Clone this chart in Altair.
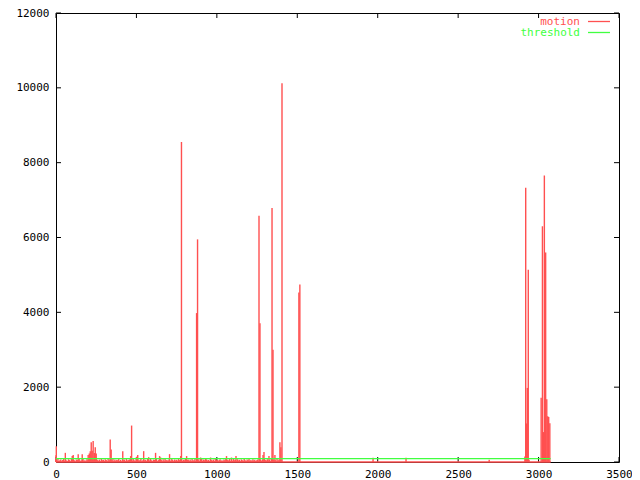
import altair as alt
import pandas as pd

RED = "#ff5050"
GREEN = "#40ff40"
FONT = "DejaVu Sans Mono"

series_names = ["motion", "threshold"]
x_ticks = [0, 500, 1000, 1500, 2000, 2500, 3000, 3500]
y_ticks = [0, 2000, 4000, 6000, 8000, 10000, 12000]

# small background motion values, one every 6 frames from frame 0 to 1398
noise_step = 6
noise_values = [
    60, 35, 80, 20, 45, 70, 15, 55, 90, 30, 65, 40, 25,
    75, 50, 20, 85, 35, 60, 45, 10, 70, 55, 30, 80, 40,
    25, 65, 90, 35, 50, 20, 75, 45, 60, 15, 85, 30, 55,
    40, 70, 25, 95, 50, 35, 65, 20, 80, 45, 60, 30, 75,
    55, 20, 85, 40, 65, 30, 50, 90, 25, 70, 35, 60, 45,
    80, 30, 55, 15, 75, 45, 65, 25, 85, 40, 50, 70, 20,
    60, 35, 90, 50, 25, 75, 40, 65, 30, 55, 85, 20, 45,
    70, 40, 60, 25, 80, 50, 35, 95, 45, 20, 65, 55, 30,
    85, 25, 50, 70, 40, 60, 15, 75, 35, 90, 45, 55, 25,
    65, 45, 30, 80, 55, 20, 70, 40, 60, 35, 85, 50, 25,
    75, 30, 60, 45, 90, 25, 55, 70, 35, 65, 20, 80, 40,
    50, 85, 30, 60, 40, 75, 25, 55, 95, 35, 65, 45, 20,
    70, 40, 55, 25, 80, 50, 35, 65, 30, 85, 45, 60, 20,
    55, 75, 35, 50, 20, 70, 45, 90, 30, 60, 40, 80, 25,
    65, 30, 85, 45, 55, 25, 75, 40, 60, 20, 70, 50, 35,
    80, 45, 25, 65, 50, 90, 35, 55, 20, 75, 40, 60, 30,
    45, 70, 20, 85, 55, 35, 65, 25, 80, 50, 40, 75, 30,
    60, 25, 90, 45, 70, 35, 55, 20, 85, 40, 65, 30, 50,
]

spike_frames = [
    0, 2, 58, 101, 107, 138, 163, 200, 207, 213, 219, 225, 231, 238, 244, 250,
    337, 343, 415, 464, 470, 501, 508, 545, 576, 619, 644, 650, 706, 775, 780,
    812, 874, 880, 899, 930, 961, 1060, 1091, 1119, 1262, 1268, 1287, 1293,
    1324, 1343, 1349, 1361, 1392, 1398, 1405, 1510, 1516, 1971, 2176, 2693,
    2915, 2920, 2925, 2930, 2936, 2941, 3016, 3024, 3030, 3036, 3044, 3051,
    3057, 3063, 3070,
]
spike_values = [
    180, 420, 245, 160, 185, 210, 210, 185, 230, 290, 526, 300, 560, 240, 395, 230,
    600, 335, 290, 158, 974, 140, 184, 290, 130, 245, 158, 123, 210, 158, 8550,
    158, 3980, 5950, 120, 100, 120, 158, 120, 158, 6580, 3710, 184, 265,
    158, 6790, 3000, 184, 526, 395, 10120, 4530, 4745, 115, 115, 60,
    150, 7330, 1030, 1980, 5140, 60, 1720, 6300, 800, 7660, 5600, 1675,
    1220, 1200, 1035,
]

motion_first_frame = 0
motion_last_frame = 3075
threshold_value = 90

frames = [i * noise_step for i in range(len(noise_values))] + spike_frames
values = noise_values + spike_values
motion_df = pd.DataFrame({"frame": frames, "motion": values, "base": 0})
span_df = pd.DataFrame({"start": [motion_first_frame], "end": [motion_last_frame],
                        "zero": [0], "threshold": [threshold_value]})
xt_df = pd.DataFrame({"t": x_ticks})
yt_df = pd.DataFrame({"t": y_ticks})

W, H = 563, 449

xscale = alt.Scale(domain=[0, 3500], nice=False, zero=False)
yscale = alt.Scale(domain=[0, 12000], nice=False, zero=False)

x_axis = alt.Axis(values=x_ticks, title=None, ticks=False, tickSize=0, domain=False,
                  grid=False, labelFont=FONT, labelFontSize=11, labelColor="black",
                  labelPadding=6, labelFlush=False, format="d")
y_axis = alt.Axis(values=y_ticks, title=None, ticks=False, tickSize=0, domain=False,
                  grid=False, labelFont=FONT, labelFontSize=11, labelColor="black",
                  labelPadding=7, labelFlush=False, format="d")

axes_layer = alt.Chart(xt_df).mark_point(opacity=0).encode(
    x=alt.X("t:Q", scale=xscale, axis=x_axis),
    y=alt.Y("zero:Q", scale=yscale, axis=y_axis),
).transform_calculate(zero="0")

motion = alt.Chart(motion_df).mark_rule(color=RED, strokeWidth=1.4).encode(
    x=alt.X("frame:Q", scale=xscale),
    y=alt.Y("motion:Q", scale=yscale),
    y2="base:Q",
)

baseline = alt.Chart(span_df).mark_rule(color=RED, strokeWidth=1.4).encode(
    x=alt.X("start:Q", scale=xscale), x2="end:Q",
    y=alt.Y("zero:Q", scale=yscale),
)

threshold = alt.Chart(span_df).mark_rule(color=GREEN, strokeWidth=1.3).encode(
    x=alt.X("start:Q", scale=xscale), x2="end:Q",
    y=alt.Y("threshold:Q", scale=yscale),
)

TL = 5
xt_bottom = alt.Chart(xt_df).mark_rule(color="black").encode(
    x=alt.X("t:Q", scale=xscale), y=alt.value(H), y2=alt.value(H - TL))
xt_top = alt.Chart(xt_df).mark_rule(color="black").encode(
    x=alt.X("t:Q", scale=xscale), y=alt.value(0), y2=alt.value(TL))
yt_left = alt.Chart(yt_df).mark_rule(color="black").encode(
    y=alt.Y("t:Q", scale=yscale), x=alt.value(0), x2=alt.value(TL))
yt_right = alt.Chart(yt_df).mark_rule(color="black").encode(
    y=alt.Y("t:Q", scale=yscale), x=alt.value(W), x2=alt.value(W - TL))

leg1_df = pd.DataFrame({"label": [series_names[0]]})
leg2_df = pd.DataFrame({"label": [series_names[1]]})
leg1_text = alt.Chart(leg1_df).mark_text(align="right", baseline="middle", font=FONT,
                                         fontSize=11, color=RED).encode(
    text="label:N", x=alt.value(524), y=alt.value(8.7))
leg2_text = alt.Chart(leg2_df).mark_text(align="right", baseline="middle", font=FONT,
                                         fontSize=11, color=GREEN).encode(
    text="label:N", x=alt.value(524), y=alt.value(19.7))
leg1_line = alt.Chart(leg1_df).mark_rule(color=RED, strokeWidth=1.3).encode(
    x=alt.value(532), x2=alt.value(554), y=alt.value(8.5))
leg2_line = alt.Chart(leg2_df).mark_rule(color=GREEN, strokeWidth=1.3).encode(
    x=alt.value(532), x2=alt.value(554), y=alt.value(19.5))

chart = alt.layer(
    axes_layer, xt_bottom, xt_top, yt_left, yt_right,
    motion, baseline, threshold,
    leg1_text, leg1_line, leg2_text, leg2_line,
).properties(
    width=W, height=H,
    padding={"left": 48, "top": 5, "right": 13, "bottom": 18},
    autosize=alt.AutoSizeParams(type="none"),
    background="white",
).configure_view(stroke="black", strokeWidth=1)

chart.save("out.html", embed_options={"renderer": "svg", "actions": False})
